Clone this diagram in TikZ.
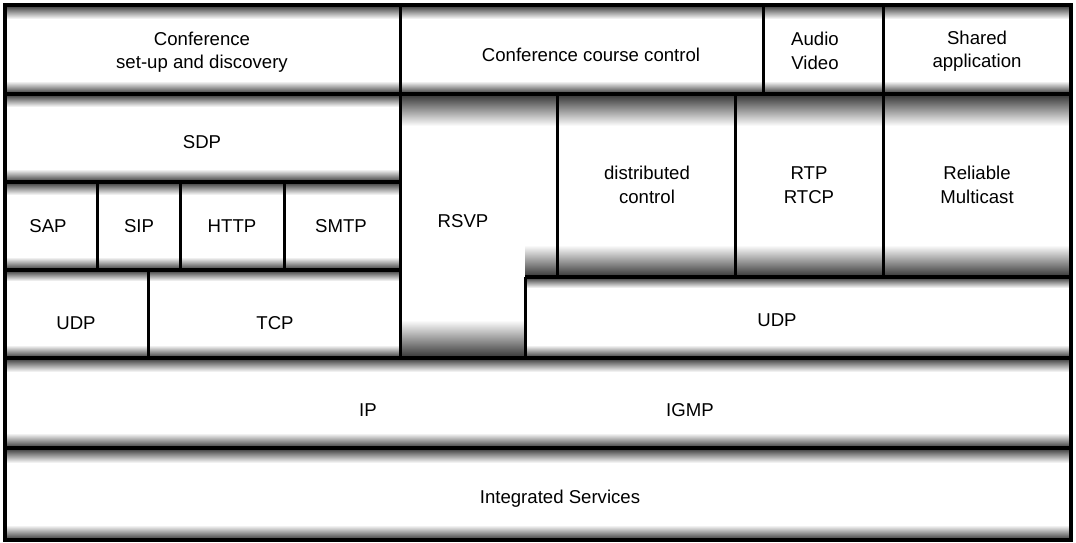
\documentclass[tikz,border=0pt]{standalone}
\usepackage{fontspec}
\setmainfont{Liberation Sans}
\usepackage{tikz}
\usetikzlibrary{positioning, calc}

\newcommand{\shadedown}[4]{\shade[top color=black!80, bottom color=white] (#1,#3) rectangle (#2,#3+#4);}
\newcommand{\shadeup}[4]{\shade[top color=white, bottom color=black!80] (#1,#3-#4) rectangle (#2,#3);}

\tikzset{
  hline/.style={line width=4.2pt},
  vline/.style={line width=3pt},
  lbl/.style={font=\fontsize{18.6}{23.5}\selectfont, align=center, inner sep=0pt}
}

\begin{document}
\begin{tikzpicture}[x=1pt, y=-1pt]
\useasboundingbox (0,0) rectangle (1076,543);
\fill[white] (0,0) rectangle (1076,543);

\shadedown{5}{1071}{5}{14}
\shadeup{5}{1071}{94}{13}
\shadedown{5}{400}{94}{13}
\shadedown{400}{1071}{94}{32}
\shadeup{5}{400}{182}{13}
\shadedown{5}{400}{182}{13}
\shadeup{5}{400}{270}{13}
\shadedown{5}{400}{270}{11}
\shadeup{525}{1071}{277}{32}
\shadedown{525}{1071}{277}{11}
\shadeup{5}{400}{358}{13}
\shadeup{400}{525}{358}{38}
\shadeup{525}{1071}{358}{13}
\shadedown{5}{1071}{358}{14}
\shadeup{5}{1071}{448}{15}
\shadedown{5}{1071}{448}{15}
\shadeup{5}{1071}{540}{15}

\draw[hline] (5,5) rectangle (1071,540);
\draw[hline] (5,94) -- (1071,94);
\draw[hline] (5,182) -- (400,182);
\draw[hline] (5,270) -- (400,270);
\draw[hline] (525,277) -- (1071,277);
\draw[hline] (5,358) -- (1071,358);
\draw[hline] (5,448) -- (1071,448);

\draw[vline] (400,5) -- (400,358);
\draw[vline] (763,5) -- (763,94);
\draw[vline] (883,5) -- (883,277);
\draw[vline] (97,182) -- (97,270);
\draw[vline] (180,182) -- (180,270);
\draw[vline] (284,182) -- (284,270);
\draw[vline] (148,270) -- (148,358);
\draw[vline] (557,94) -- (557,277);
\draw[vline] (735,94) -- (735,277);
\draw[vline] (525,277) -- (525,358);

\node[lbl] (setup) at (202,52) {Conference\\set-up and discovery};
\node[lbl] (course) at (591,55) {Conference course control};
\node[lbl] (av) at (815,51) {Audio\\Video};
\node[lbl] (shared) at (977,51) {Shared\\application};

\node[lbl] (sdp) at (202,142) {SDP};
\node[lbl] (sap) at (48,226) {SAP};
\node[lbl] (sip) at (139,226) {SIP};
\node[lbl] (http) at (232,226) {HTTP};
\node[lbl] (smtp) at (341,226) {SMTP};

\node[lbl] (rsvp) at (463,221) {RSVP};
\node[lbl] (dist) at (647,185) {distributed\\control};
\node[lbl] (rtp) at (809,185) {RTP\\RTCP};
\node[lbl] (rm) at (977,185) {Reliable\\Multicast};

\node[lbl] (udpl) at (76,323) {UDP};
\node[lbl] (tcp) at (275,323) {TCP};
\node[lbl] (udpr) at (777,320) {UDP};

\node[lbl] (ip) at (368,410) {IP};
\node[lbl] (igmp) at (690,410) {IGMP};
\node[lbl] (intserv) at (560,499) {Integrated Services};
\end{tikzpicture}
\end{document}
